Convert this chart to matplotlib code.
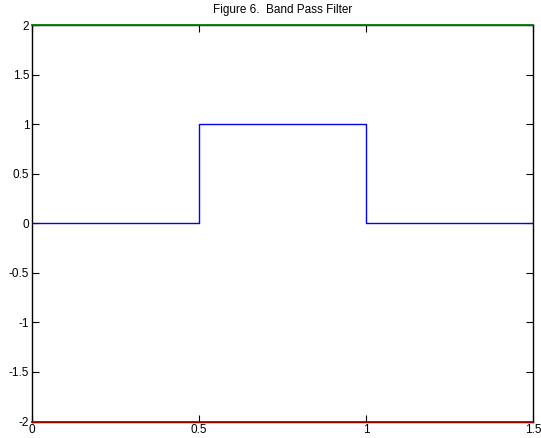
import numpy as np
import matplotlib
matplotlib.use('Agg')
import matplotlib.pyplot as plt

# step response of the band pass filter
x_band = [0, 0.5, 0.5, 1.0, 1.0, 1.5]
y_band = [0, 0, 1, 1, 0, 0]

# upper / lower limits drawn along the box edges
x_lim_line = [0, 1.5]
y_upper = [2, 2]
y_lower = [-2, -2]

x_ticks = [0, 0.5, 1, 1.5]
x_tick_labels = ['0', '0.5', '1', '1.5']
y_ticks = [-2, -1.5, -1, -0.5, 0, 0.5, 1, 1.5, 2]
y_tick_labels = ['-2', '-1.5', '-1', '-0.5', '0', '0.5', '1', '1.5', '2']

plt.rcParams['font.family'] = ['Liberation Sans', 'DejaVu Sans']

fig = plt.figure(figsize=(5.41, 4.38), dpi=100)
ax = fig.add_axes([32 / 541, 1 - 421.5 / 438, (533 - 32) / 541, (421.5 - 25) / 438])

ax.plot(x_band, y_band, color='#0000ff', lw=1.0)
ax.plot(x_lim_line, y_upper, color='#008000', lw=1.3, clip_on=False, zorder=5)
ax.plot(x_lim_line, y_lower, color='#b00000', lw=1.3, clip_on=False, zorder=5)

ax.set_xlim(0, 1.5)
ax.set_ylim(-2, 2)
ax.set_xticks(x_ticks)
ax.set_xticklabels(x_tick_labels)
ax.set_yticks(y_ticks)
ax.set_yticklabels(y_tick_labels)
ax.tick_params(direction='in', length=5, width=0.8, labelsize=8.5, pad=2,
               top=True, right=True)
for s in ax.spines.values():
    s.set_linewidth(1.0)

ax.set_title('Figure 6.  Band Pass Filter', fontsize=8.5, pad=9)

fig.savefig('out.png', dpi=100)
